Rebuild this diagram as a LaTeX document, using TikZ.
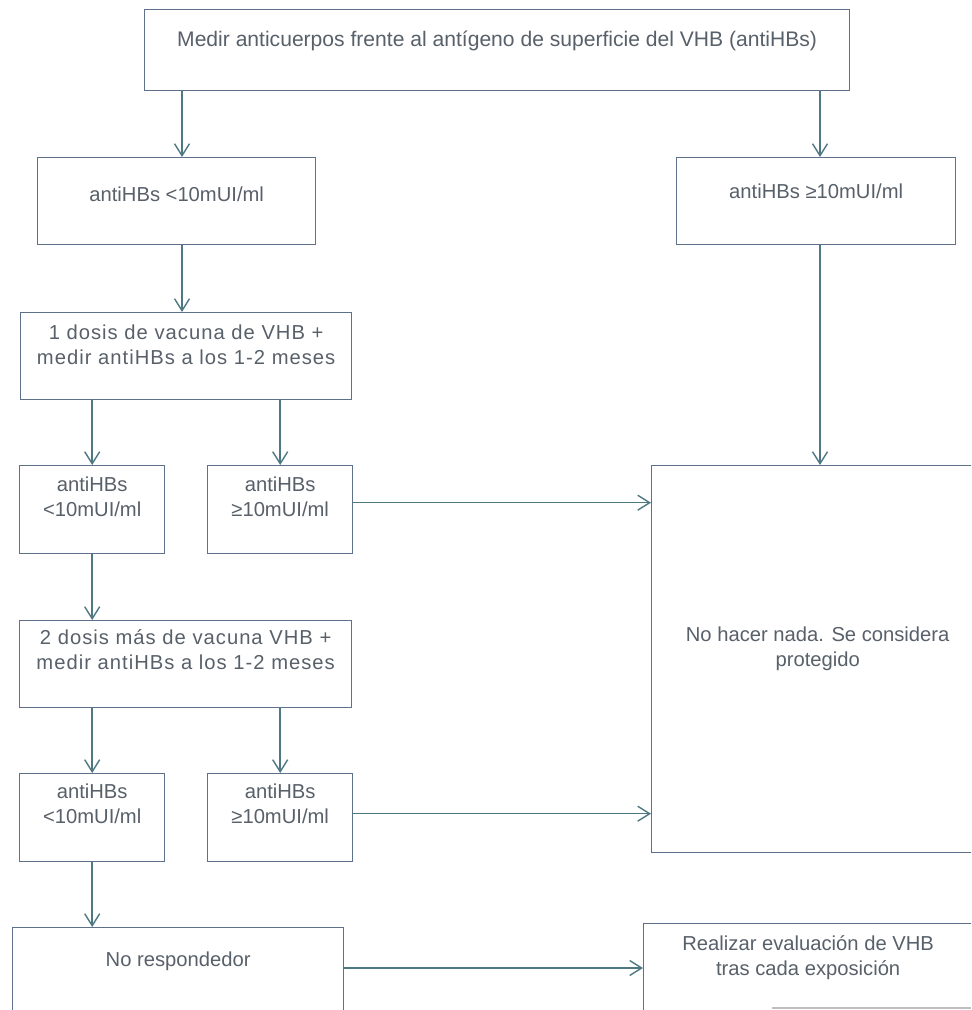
\documentclass[tikz,border=0pt]{standalone}
\usepackage{fontspec}
\setmainfont{Liberation Sans}
\newfontfamily\widefont[LetterSpace=5]{Liberation Sans}
\usetikzlibrary{arrows.meta}
\definecolor{boxline}{RGB}{95,112,138}
\definecolor{arrline}{RGB}{78,120,130}
\definecolor{txtgray}{RGB}{88,96,106}

\begin{document}
\begin{tikzpicture}[x=0.02cm, y=-0.02cm,
    >={Straight Barb[length=2.4mm,width=3mm]},
    box/.style={draw=boxline, line width=0.8pt, fill=white, rectangle, anchor=north west,
      inner sep=0pt, align=center, text=txtgray, font=\fontsize{11.5}{14.2}\selectfont},
    wide/.style={font=\widefont\fontsize{11.5}{14.2}\selectfont},
    arr/.style={->, draw=arrline, line width=0.8pt}]
    \useasboundingbox (0,0) rectangle (971,1010);
    \clip (0,0) rectangle (971,1010);

    % First measurement
    \node[box, font=\fontsize{12}{14.2}\selectfont, minimum width=14.1cm, text height=0.74cm, text depth=0.88cm] (meas) at (144,9)
      {Medir anticuerpos frente al antígeno de superficie del VHB (antiHBs)};
    \node[box, minimum width=5.56cm, text height=0.88cm, text depth=0.86cm] (lowA) at (37,157)
      {antiHBs <10mUI/ml};
    \node[box, minimum width=5.58cm, text height=0.82cm, text depth=0.92cm] (highA) at (676,157)
      {antiHBs ≥10mUI/ml};

    % One more dose
    \node[box, wide, minimum width=6.62cm, text height=1.04cm, text depth=0.7cm] (dose1) at (20,312)
      {1 dosis de vacuna de VHB +\\medir antiHBs a los 1-2 meses};
    \node[box, minimum width=2.9cm, text height=1.02cm, text depth=0.74cm] (lowB) at (19,465)
      {antiHBs\\<10mUI/ml};
    \node[box, minimum width=2.9cm, text height=1.02cm, text depth=0.74cm] (highB) at (207,465)
      {antiHBs\\≥10mUI/ml};

    % Two more doses
    \node[box, wide, minimum width=6.64cm, text height=0.98cm, text depth=0.76cm] (dose2) at (19,620)
      {2 dosis más de vacuna VHB +\\medir antiHBs a los 1-2 meses};
    \node[box, minimum width=2.9cm, text height=1cm, text depth=0.76cm] (lowC) at (19,773)
      {antiHBs\\<10mUI/ml};
    \node[box, minimum width=2.9cm, text height=1cm, text depth=0.76cm] (highC) at (207,773)
      {antiHBs\\≥10mUI/ml};

    % Outcomes
    \node[box, minimum width=6.64cm, text height=4.02cm, text depth=3.72cm] (protect) at (651,465)
      {No hacer nada. Se considera\\protegido};
    \node[box, minimum width=6.62cm, text height=0.78cm, text depth=1.6cm] (noresp) at (12,927)
      {No respondedor};
    \node[box, minimum width=6.58cm, text height=1.04cm, text depth=1.5cm] (real) at (643,923)
      {Realizar evaluación de VHB\\tras cada exposición};

    % Arrows
    \coordinate (colA) at (182,0);
    \coordinate (colB) at (820,0);
    \coordinate (rowE) at (0,968);
    \draw[arr] (meas.south -| colA) -- (lowA.north -| colA);
    \draw[arr] (meas.south -| colB) -- (highA.north -| colB);
    \draw[arr] (lowA.south -| colA) -- (dose1.north -| colA);
    \draw[arr] (highA.south -| colB) -- (protect.north -| colB);
    \draw[arr] (dose1.south -| lowB) -- (lowB.north);
    \draw[arr] (dose1.south -| highB) -- (highB.north);
    \draw[arr] ([yshift=0.14cm]highB.east) -- ([yshift=0.14cm]highB.east -| protect.west);
    \draw[arr] (lowB.south) -- (dose2.north -| lowB);
    \draw[arr] (dose2.south -| lowC) -- (lowC.north);
    \draw[arr] (dose2.south -| highC) -- (highC.north);
    \draw[arr] ([yshift=0.08cm]highC.east) -- ([yshift=0.08cm]highC.east -| protect.west);
    \draw[arr] (lowC.south) -- (noresp.north -| lowC);
    \draw[arr] (noresp.east |- rowE) -- (real.west |- rowE);

    % Edge at the bottom
    \draw[gray!50, line width=0.6pt] (772,1008) -- (971,1008);
  \end{tikzpicture}
\end{document}
